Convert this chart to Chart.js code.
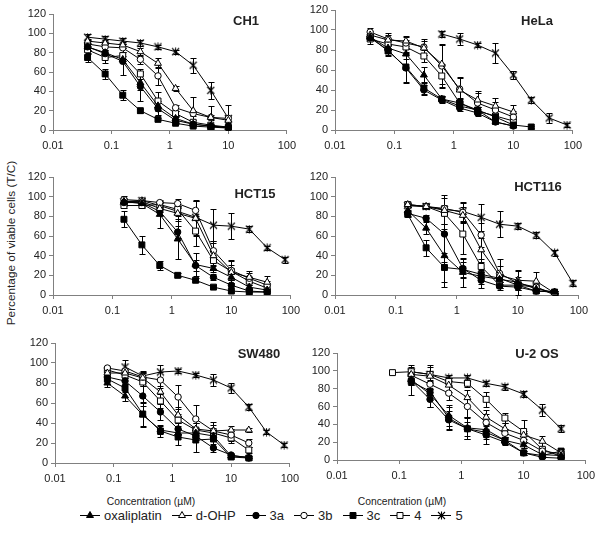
<!DOCTYPE html>
<html>
<head>
<meta charset="utf-8">
<script src="https://cdn.jsdelivr.net/npm/chart.js@4.4.1/dist/chart.umd.min.js"></script>
<style>
  body { margin: 0; background: #fff; }
  #stage { position: relative; width: 601px; height: 535px; overflow: hidden; font-family: "Liberation Sans", Arial, sans-serif; color: #222; }
  #stage canvas { position: absolute; }
  .cell { position: absolute; font-weight: bold; font-size: 13px; transform: translate(-50%, -50%); white-space: nowrap; }
  .axis-title { position: absolute; font-size: 10.3px; transform: translate(-50%, -50%); white-space: nowrap; }
  #ytitle { position: absolute; left: 11px; top: 243px; font-size: 11.8px; transform: translate(-50%, -50%) rotate(-90deg); white-space: nowrap; }
  #legend { position: absolute; left: 80px; top: 506px; display: flex; align-items: center; font-size: 13px; height: 18px; }
  #legend .item { display: flex; align-items: center; margin-right: 10px; }
  #legend canvas { position: static; margin-right: 4px; }
</style>
</head>
<body>
<div id="stage">
  <div id="ytitle">Percentage of viable cells (T/C)</div>
  <div class="axis-title" style="left:151px;top:501px">Concentration (µM)</div>
  <div class="axis-title" style="left:402px;top:501px">Concentration (µM)</div>
  <div id="legend"></div>
</div>
<script>
const _ = null;

// concentrations (µM) of the dilution series
const conc = [0.039, 0.078, 0.156, 0.3125, 0.625, 1.25, 2.5, 5, 10, 20, 40, 80];
const xTicks = [0.01, 0.1, 1, 10, 100];
const xTickLabels = ['0.01', '0.1', '1', '10', '100'];

const seriesNames = ['oxaliplatin', 'd-OHP', '3a', '3b', '3c', '4', '5'];
const cellLines = ['CH1', 'HeLa', 'HCT15', 'HCT116', 'SW480', 'U-2 OS'];

// rows follow seriesNames, columns follow conc
const ch1Values = [
  [86, 80, 73, 49, 25, 12, 6, 4, 2],
  [92, 90, 88, 81, 69, 43, 20, 13, 10],
  [86, 79, 71, 45, 22, 10, 6, 4, 3],
  [89, 86, 85, 73, 56, 23, 17, 13, 12],
  [75, 58, 36, 20, 11, 7, 4, 3, 2],
  [83, 75, 77, 58, 30, 17, 8, 5, 3],
  [96, 94, 92, 90, 86, 81, 67, 41, 12]
];
const ch1Errors = [
  [3, 3, 4, 8, 5, 3, 2, 1, 1],
  [2, 3, 3, 4, 5, 3, 14, 12, 3],
  [3, 4, 14, 15, 6, 3, 2, 1, 1],
  [3, 4, 4, 5, 9, 3, 3, 3, 3],
  [5, 5, 5, 2, 1, 1, 1, 1, 1],
  [4, 6, 4, 5, 9, 3, 2, 1, 1],
  [3, 3, 3, 3, 2, 2, 8, 9, 14]
];

const helaValues = [
  [93, 82, 76, 55, 31, 24, 20, 8, 4],
  [95, 90, 89, 82, 66, 40, 30, 24, 18],
  [92, 80, 62, 40, 30, 22, 17, 8, 4],
  [98, 91, 87, 83, 64, 41, 27, 20, 13],
  [93, 79, 63, 42, 31, 27, 20, 13, 5, 3],
  [91, 86, 83, 74, 54, 27, 19, 14, 9],
  [_, _, _, _, 96, 91, 85, 77, 55, 30, 12, 5]
];
const helaErrors = [
  [3, 4, 5, 8, 3, 3, 3, 2, 1],
  [4, 5, 5, 7, 20, 12, 9, 8, 7],
  [3, 5, 15, 5, 3, 3, 3, 2, 1],
  [4, 6, 6, 8, 21, 12, 10, 8, 6],
  [3, 5, 15, 6, 3, 4, 3, 3, 2, 1],
  [5, 6, 7, 6, 12, 5, 4, 3, 2],
  [_, _, _, _, 3, 6, 2, 10, 4, 3, 5, 2]
];

const hct15Values = [
  [_, _, 95, 93, 82, 57, 31, 27, 18, 8, 5],
  [_, _, 95, 95, 88, 83, 78, 40, 23, 18, 13],
  [_, _, 94, 94, 85, 64, 30, 18, 10, 4, 3],
  [_, _, 97, 96, 94, 93, 86, 45, 25, 17, 10],
  [_, _, 77, 51, 30, 20, 15, 8, 4, 3, 3],
  [_, _, 91, 91, 92, 87, 65, 35, 24, 14, 7],
  [_, _, 95, 96, 91, 85, 79, 71, 70, 67, 48, 36]
];
const hct15Errors = [
  [_, _, 3, 3, 14, 20, 12, 4, 3, 2, 1],
  [_, _, 3, 3, 4, 8, 18, 15, 8, 6, 6],
  [_, _, 3, 3, 4, 6, 6, 3, 2, 1, 1],
  [_, _, 4, 3, 3, 5, 10, 8, 10, 5, 4],
  [_, _, 8, 9, 5, 2, 2, 2, 1, 1, 1],
  [_, _, 3, 3, 3, 4, 15, 6, 12, 4, 3],
  [_, _, 3, 3, 3, 5, 18, 16, 13, 3, 2, 3]
];

const hct116Values = [
  [_, _, 86, 68, 40, 23, 19, 16, 13, 6, 3],
  [_, _, 92, 90, 86, 81, 46, 20, 15, 14, 2],
  [_, _, 83, 78, 62, 27, 15, 9, 8, 4, 3],
  [_, _, 91, 90, 88, 84, 61, 22, 12, 8, 1],
  [_, _, 82, 48, 28, 26, 21, 17, 10, 4, 3],
  [_, _, 92, 90, 83, 62, 29, 10, 10, 8, 0],
  [_, _, 91, 90, 87, 85, 79, 72, 70, 61, 43, 12]
];
const hct116Errors = [
  [_, _, 3, 6, 32, 15, 8, 5, 5, 3, 1],
  [_, _, 2, 3, 4, 8, 12, 10, 10, 9, 1],
  [_, _, 3, 3, 28, 10, 8, 4, 3, 2, 1],
  [_, _, 2, 3, 4, 10, 12, 15, 12, 5, 1],
  [_, _, 3, 8, 15, 8, 4, 4, 3, 2, 1],
  [_, _, 2, 3, 16, 20, 8, 3, 3, 2, 1],
  [_, _, 2, 3, 15, 10, 14, 13, 3, 3, 3, 3]
];

const sw480Values = [
  [_, 80, 67, 48, 33, 30, 30, 27, 7, 6],
  [_, 90, 90, 85, 71, 48, 34, 32, 33, 33],
  [_, 86, 82, 67, 51, 34, 27, 15, 8, 5],
  [_, 95, 92, 86, 83, 66, 44, 32, 28, 20],
  [_, 84, 75, 49, 32, 26, 23, 24, 6, 5],
  [_, 93, 88, 81, 62, 43, 33, 30, 25, 13],
  [_, _, 96, 87, 91, 92, 88, 83, 75, 56, 31, 18]
];
const sw480Errors = [
  [_, 4, 5, 12, 4, 4, 3, 3, 2, 1],
  [_, 3, 3, 5, 6, 8, 6, 6, 4, 2],
  [_, 3, 3, 10, 8, 6, 4, 4, 2, 1],
  [_, 2, 3, 5, 8, 12, 14, 9, 6, 4],
  [_, 3, 4, 12, 6, 8, 12, 8, 2, 2],
  [_, 3, 3, 4, 7, 6, 7, 5, 5, 3],
  [_, _, 7, 5, 7, 2, 2, 6, 5, 3, 2, 2]
];

const u2osValues = [
  [_, _, 90, 74, 50, 36, 34, 22, 17, 6, 5],
  [_, _, 96, 94, 84, 70, 48, 35, 28, 21, 8],
  [_, _, 89, 68, 45, 35, 28, 20, 8, 3, 2],
  [_, _, 95, 85, 75, 60, 42, 30, 22, 10, 7],
  [_, _, 88, 77, 47, 35, 31, 22, 8, 5, 10],
  [_, 98, 99, 96, 88, 86, 68, 47, 32, 12, 4],
  [_, _, 99, 96, 92, 92, 86, 82, 74, 56, 35]
];
const u2osErrors = [
  [_, _, 17, 15, 12, 12, 8, 4, 3, 2, 1],
  [_, _, 4, 10, 8, 9, 8, 6, 5, 6, 2],
  [_, _, 5, 8, 10, 12, 10, 3, 2, 1, 1],
  [_, _, 4, 5, 8, 12, 10, 5, 8, 4, 2],
  [_, _, 4, 10, 13, 8, 8, 4, 2, 2, 2],
  [_, 2, 3, 3, 4, 4, 8, 6, 13, 3, 2],
  [_, _, 5, 10, 3, 3, 3, 3, 3, 7, 4]
];

const panelValues = [ch1Values, helaValues, hct15Values, hct116Values, sw480Values, u2osValues];
const panelErrors = [ch1Errors, helaErrors, hct15Errors, hct116Errors, sw480Errors, u2osErrors];

// plot area of each panel on the page, plus where its cell-line name sits
const boxes = [
  { l: 53, t: 14, r: 287, b: 130, tx: 246, ty: 20 },
  { l: 335, t: 10, r: 573, b: 130, tx: 537, ty: 20 },
  { l: 53, t: 177, r: 291, b: 295, tx: 255, ty: 193 },
  { l: 335, t: 177, r: 579, b: 295, tx: 538, ty: 186 },
  { l: 55, t: 343, r: 290, b: 463, tx: 259, ty: 353 },
  { l: 337, t: 353, r: 586, b: 460, tx: 537, ty: 353 }
];

// Excel-style asterisk: an X crossed by a vertical stroke
function asteriskImage() {
  const c = document.createElement('canvas');
  c.width = 9; c.height = 9;
  const g = c.getContext('2d');
  g.strokeStyle = '#000';
  g.lineWidth = 1.1;
  g.beginPath();
  g.moveTo(1, 1); g.lineTo(8, 8);
  g.moveTo(8, 1); g.lineTo(1, 8);
  g.moveTo(4.5, 0.5); g.lineTo(4.5, 8.5);
  g.stroke();
  return c;
}
const asterisk = asteriskImage();

const markers = [
  { style: 'triangle', fill: '#000', r: 4 },
  { style: 'triangle', fill: '#fff', r: 4 },
  { style: 'circle', fill: '#000', r: 3.2 },
  { style: 'circle', fill: '#fff', r: 3.2 },
  { style: 'rect', fill: '#000', r: 4.2 },
  { style: 'rect', fill: '#fff', r: 4.2 },
  { style: asterisk, fill: '#fff', r: 4.5 }
];

const FONT = '"Liberation Sans", Arial, sans-serif';
const padL = 36, padT = 10, padR = 14, padB = 24;
const stage = document.getElementById('stage');

const errorBars = {
  id: 'errorBars',
  beforeDatasetsDraw(chart) {
    const ctx = chart.ctx;
    const ys = chart.scales.y;
    ctx.save();
    ctx.strokeStyle = '#000';
    ctx.lineWidth = 1;
    chart.data.datasets.forEach((ds, i) => {
      const meta = chart.getDatasetMeta(i);
      meta.data.forEach((pt, j) => {
        const d = ds.data[j];
        if (!d.e) return;
        const x = Math.round(pt.x) + 0.5;
        const top = Math.round(ys.getPixelForValue(d.y + d.e)) + 0.5;
        const bot = Math.round(ys.getPixelForValue(Math.max(d.y - d.e, 0))) + 0.5;
        ctx.beginPath();
        ctx.moveTo(x, top); ctx.lineTo(x, bot);
        ctx.moveTo(x - 3, top); ctx.lineTo(x + 3, top);
        ctx.moveTo(x - 3, bot); ctx.lineTo(x + 3, bot);
        ctx.stroke();
      });
    });
    ctx.restore();
  }
};

function makePanel(k) {
  const b = boxes[k];
  const cv = document.createElement('canvas');
  cv.width = b.r - b.l + padL + padR;
  cv.height = b.b - b.t + padT + padB;
  cv.style.left = (b.l - padL) + 'px';
  cv.style.top = (b.t - padT) + 'px';
  stage.appendChild(cv);

  const name = document.createElement('div');
  name.className = 'cell';
  name.textContent = cellLines[k];
  name.style.left = b.tx + 'px';
  name.style.top = b.ty + 'px';
  stage.appendChild(name);

  const datasets = seriesNames.map((label, s) => ({
    label,
    data: conc.map((c, i) => ({ x: c, y: panelValues[k][s][i], e: panelErrors[k][s][i] }))
      .filter(p => p.y !== null && p.y !== undefined),
    borderColor: '#000',
    borderWidth: 1,
    tension: 0,
    pointStyle: markers[s].style,
    pointRadius: markers[s].r,
    pointBackgroundColor: markers[s].fill,
    pointBorderColor: '#000',
    pointBorderWidth: 1
  }));

  const axisGrid = { drawOnChartArea: false, drawTicks: true, tickLength: 4, color: '#808080' };
  new Chart(cv, {
    type: 'line',
    data: { datasets },
    options: {
      responsive: false,
      animation: false,
      devicePixelRatio: 1,
      layout: { padding: { top: padT, right: padR, left: 0, bottom: 0 } },
      plugins: { legend: { display: false }, tooltip: { enabled: false } },
      scales: {
        x: {
          type: 'logarithmic',
          min: 0.01,
          max: 100,
          afterBuildTicks: s => { s.ticks = xTicks.map(v => ({ value: v })); },
          afterFit: s => { s.height = padB; },
          ticks: { callback: (v, i) => xTickLabels[i], autoSkip: false, maxRotation: 0, padding: 5, color: '#222', font: { family: FONT, size: 11 } },
          grid: axisGrid,
          border: { color: '#808080' }
        },
        y: {
          min: 0,
          max: 120,
          afterFit: s => { s.width = padL; },
          ticks: { stepSize: 20, padding: 3, color: '#222', font: { family: FONT, size: 11 } },
          grid: axisGrid,
          border: { color: '#808080' }
        }
      }
    },
    plugins: [errorBars]
  });
}

cellLines.forEach((c, k) => makePanel(k));

// legend: line-marker-line symbol then the series name
function drawSymbol(ctx, m, cx, cy) {
  const r = m.r;
  if (typeof m.style !== 'string') {
    ctx.drawImage(m.style, Math.round(cx - m.style.width / 2), Math.round(cy - m.style.height / 2));
    return;
  }
  ctx.beginPath();
  if (m.style === 'triangle') {
    ctx.moveTo(cx, cy - r);
    ctx.lineTo(cx + r * 0.866, cy + r * 0.5);
    ctx.lineTo(cx - r * 0.866, cy + r * 0.5);
    ctx.closePath();
  } else if (m.style === 'circle') {
    ctx.arc(cx, cy, r, 0, Math.PI * 2);
  } else {
    const h = r * Math.SQRT1_2;
    ctx.rect(cx - h, cy - h, 2 * h, 2 * h);
  }
  ctx.fillStyle = m.fill;
  ctx.fill();
  ctx.stroke();
}

const legend = document.getElementById('legend');
seriesNames.forEach((label, s) => {
  const item = document.createElement('div');
  item.className = 'item';
  const cv = document.createElement('canvas');
  cv.width = 20; cv.height = 12;
  const ctx = cv.getContext('2d');
  ctx.strokeStyle = '#000';
  ctx.lineWidth = 1;
  ctx.beginPath();
  ctx.moveTo(0, 6.5); ctx.lineTo(20, 6.5);
  ctx.stroke();
  drawSymbol(ctx, markers[s], 10, 6.5);
  const span = document.createElement('span');
  span.textContent = label;
  item.appendChild(cv);
  item.appendChild(span);
  legend.appendChild(item);
});
</script>
</body>
</html>
